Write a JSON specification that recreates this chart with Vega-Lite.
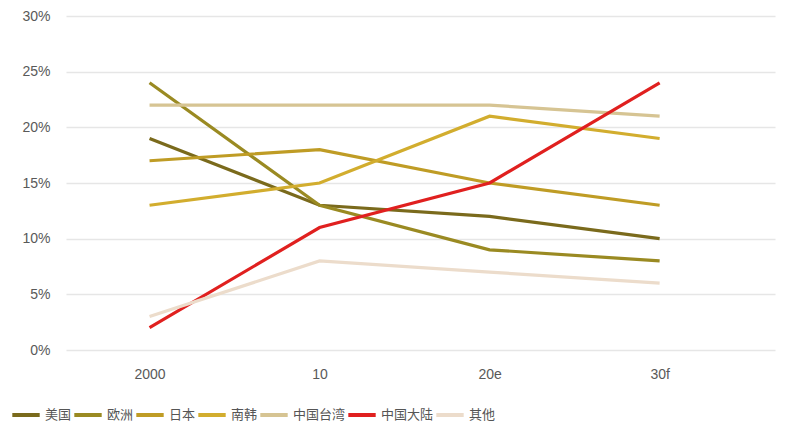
{
  "$schema": "https://vega.github.io/schema/vega-lite/v6.json",
  "width": 709,
  "height": 334,
  "autosize": {"type": "none"},
  "padding": {"left": 66, "top": 16, "right": 25, "bottom": 89},
  "background": "white",
  "data": {
    "values": [
      {"region": "美国", "year": "2000", "share": 0.19},
      {"region": "美国", "year": "10", "share": 0.13},
      {"region": "美国", "year": "20e", "share": 0.12},
      {"region": "美国", "year": "30f", "share": 0.10},
      {"region": "欧洲", "year": "2000", "share": 0.24},
      {"region": "欧洲", "year": "10", "share": 0.13},
      {"region": "欧洲", "year": "20e", "share": 0.09},
      {"region": "欧洲", "year": "30f", "share": 0.08},
      {"region": "日本", "year": "2000", "share": 0.17},
      {"region": "日本", "year": "10", "share": 0.18},
      {"region": "日本", "year": "20e", "share": 0.15},
      {"region": "日本", "year": "30f", "share": 0.13},
      {"region": "南韩", "year": "2000", "share": 0.13},
      {"region": "南韩", "year": "10", "share": 0.15},
      {"region": "南韩", "year": "20e", "share": 0.21},
      {"region": "南韩", "year": "30f", "share": 0.19},
      {"region": "中国台湾", "year": "2000", "share": 0.22},
      {"region": "中国台湾", "year": "10", "share": 0.22},
      {"region": "中国台湾", "year": "20e", "share": 0.22},
      {"region": "中国台湾", "year": "30f", "share": 0.21},
      {"region": "中国大陆", "year": "2000", "share": 0.02},
      {"region": "中国大陆", "year": "10", "share": 0.11},
      {"region": "中国大陆", "year": "20e", "share": 0.15},
      {"region": "中国大陆", "year": "30f", "share": 0.24},
      {"region": "其他", "year": "2000", "share": 0.03},
      {"region": "其他", "year": "10", "share": 0.08},
      {"region": "其他", "year": "20e", "share": 0.07},
      {"region": "其他", "year": "30f", "share": 0.06}
    ]
  },
  "mark": {"type": "line", "strokeWidth": 3.2},
  "encoding": {
    "x": {
      "field": "year",
      "type": "ordinal",
      "sort": ["2000", "10", "20e", "30f"],
      "scale": {"type": "point", "padding": 0.585, "align": 0.42},
      "axis": {
        "title": null,
        "domain": false,
        "ticks": false,
        "labelAngle": 0,
        "labelPadding": 17,
        "labelFont": "Liberation Sans",
        "labelFontSize": 14,
        "labelColor": "#595959"
      }
    },
    "y": {
      "field": "share",
      "type": "quantitative",
      "scale": {"domain": [0, 0.3]},
      "axis": {
        "title": null,
        "format": ".0%",
        "values": [0, 0.05, 0.1, 0.15, 0.2, 0.25, 0.3],
        "domain": false,
        "ticks": false,
        "labelPadding": 16,
        "labelFont": "Liberation Sans",
        "labelFontSize": 14,
        "labelColor": "#595959",
        "gridColor": "#e6e6e6",
        "gridWidth": 1.5
      }
    },
    "color": {
      "field": "region",
      "type": "nominal",
      "sort": ["美国", "欧洲", "日本", "南韩", "中国台湾", "中国大陆", "其他"],
      "scale": {
        "domain": ["美国", "欧洲", "日本", "南韩", "中国台湾", "中国大陆", "其他"],
        "range": ["#7a6a1c", "#9a8a22", "#bf9c25", "#d2ad2e", "#d6c493", "#e0201f", "#ecdccb"]
      },
      "legend": {
        "title": null,
        "orient": "none",
        "direction": "horizontal",
        "legendX": -56,
        "legendY": 383,
        "symbolType": "stroke",
        "symbolSize": 750,
        "symbolStrokeWidth": 4,
        "labelFont": "Noto Sans CJK SC",
        "labelFontSize": 13,
        "labelColor": "#555555",
        "labelOffset": 3,
        "columnPadding": -8
      }
    }
  },
  "config": {"view": {"stroke": null}}
}
